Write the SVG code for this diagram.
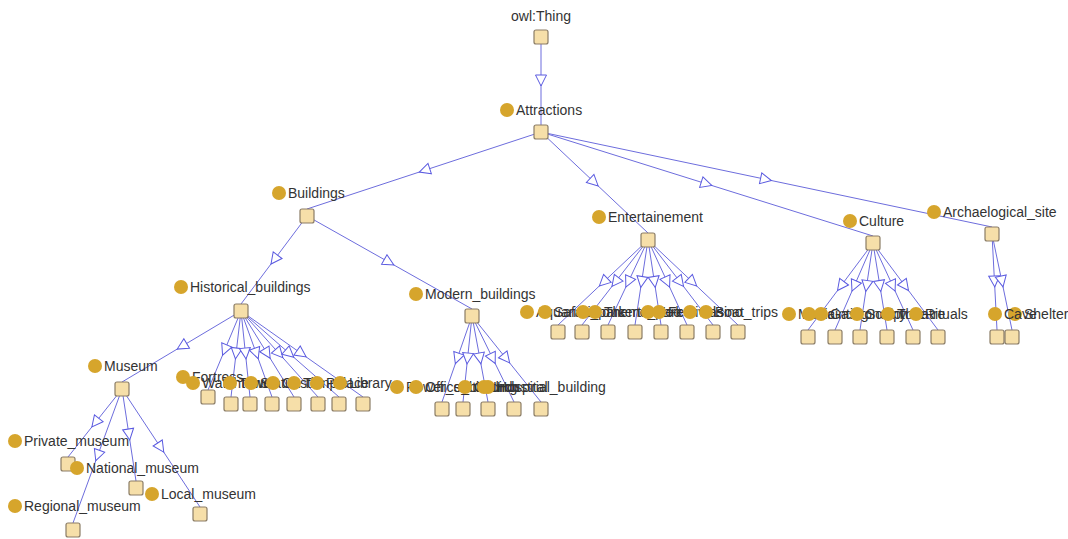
<svg xmlns="http://www.w3.org/2000/svg" width="1068" height="539" viewBox="0 0 1068 539">
<style>
.e{fill:none;stroke:#6d6ddd;stroke-width:1;marker-mid:url(#tri)}
.b{fill:#f6dfa9;stroke:#8b7d66;stroke-width:1.2}
.c{fill:#d6a52c}
.t{font-family:"Liberation Sans",Arial,sans-serif;font-size:14px;fill:#333}
</style>
<defs>
<marker id="tri" markerUnits="userSpaceOnUse" viewBox="-1 -1 14 14" markerWidth="14" markerHeight="14" refX="6" refY="6" orient="auto">
<path d="M0,0.5 L11,6 L0,11.5 Z" fill="#fff" stroke="#5a5ae0" stroke-width="1"/>
</marker>
</defs>
<rect width="1068" height="539" fill="#fff"/>
<g id="connectors">
<path class="e" d="M541,37 L541,81 L541,125"/>
<path class="e" d="M541,132 L424,170.5 L307,209"/>
<path class="e" d="M541,132 L594.5,182.5 L648,233"/>
<path class="e" d="M541,132 L707,184 L873,236"/>
<path class="e" d="M541,132 L766.5,179.5 L992,227"/>
<path class="e" d="M307,216 L274,260 L241,304"/>
<path class="e" d="M307,216 L389.5,262.5 L472,309"/>
<path class="e" d="M241,311 L181.5,346.5 L122,382"/>
<path class="e" d="M241,311 L224.5,350.5 L208,390"/>
<path class="e" d="M241,311 L236,354 L231,397"/>
<path class="e" d="M241,311 L245.5,354 L250,397"/>
<path class="e" d="M241,311 L256.5,354 L272,397"/>
<path class="e" d="M241,311 L267.5,354 L294,397"/>
<path class="e" d="M241,311 L279.5,354 L318,397"/>
<path class="e" d="M241,311 L290,354 L339,397"/>
<path class="e" d="M241,311 L302,354 L363,397"/>
<path class="e" d="M122,389 L95,423 L68,457"/>
<path class="e" d="M122,389 L129,435 L136,481"/>
<path class="e" d="M122,389 L161,448 L200,507"/>
<path class="e" d="M122,389 L97.5,456 L73,523"/>
<path class="e" d="M472,316 L457,359 L442,402"/>
<path class="e" d="M472,316 L467.5,359 L463,402"/>
<path class="e" d="M472,316 L480,359 L488,402"/>
<path class="e" d="M472,316 L493,359 L514,402"/>
<path class="e" d="M472,316 L506.5,359 L541,402"/>
<path class="e" d="M648,240 L603,282.5 L558,325"/>
<path class="e" d="M648,240 L615,282.5 L582,325"/>
<path class="e" d="M648,240 L628,282.5 L608,325"/>
<path class="e" d="M648,240 L641.5,282.5 L635,325"/>
<path class="e" d="M648,240 L654.5,282.5 L661,325"/>
<path class="e" d="M648,240 L667.5,282.5 L687,325"/>
<path class="e" d="M648,240 L680.5,282.5 L713,325"/>
<path class="e" d="M648,240 L693,282.5 L738,325"/>
<path class="e" d="M873,243 L840.5,286.5 L808,330"/>
<path class="e" d="M873,243 L854,286.5 L835,330"/>
<path class="e" d="M873,243 L866.5,286.5 L860,330"/>
<path class="e" d="M873,243 L880,286.5 L887,330"/>
<path class="e" d="M873,243 L893,286.5 L913,330"/>
<path class="e" d="M873,243 L905.5,286.5 L938,330"/>
<path class="e" d="M992,234 L994.5,282 L997,330"/>
<path class="e" d="M992,234 L1002,282 L1012,330"/>
</g>
<g id="n-thing"><text class="t" x="541" y="21" text-anchor="middle">owl:Thing</text><rect class="b" x="534" y="30" width="14" height="14" rx="2"/></g>
<g id="n-attractions"><circle class="c" cx="507" cy="110" r="7"/><text class="t" x="516" y="115">Attractions</text><rect class="b" x="534" y="125" width="14" height="14" rx="2"/></g>
<g id="n-buildings"><circle class="c" cx="279" cy="193" r="7"/><text class="t" x="288" y="198">Buildings</text><rect class="b" x="300" y="209" width="14" height="14" rx="2"/></g>
<g id="n-entertainement"><circle class="c" cx="599" cy="217" r="7"/><text class="t" x="608" y="222">Entertainement</text><rect class="b" x="641" y="233" width="14" height="14" rx="2"/></g>
<g id="n-culture"><circle class="c" cx="850" cy="221" r="7"/><text class="t" x="859" y="226">Culture</text><rect class="b" x="866" y="236" width="14" height="14" rx="2"/></g>
<g id="n-archaeological"><circle class="c" cx="934" cy="212" r="7"/><text class="t" x="943" y="217">Archaelogical_site</text><rect class="b" x="985" y="227" width="14" height="14" rx="2"/></g>
<g id="n-historical"><circle class="c" cx="181" cy="287" r="7"/><text class="t" x="190" y="292">Historical_buildings</text><rect class="b" x="234" y="304" width="14" height="14" rx="2"/></g>
<g id="n-modern"><circle class="c" cx="416" cy="294" r="7"/><text class="t" x="425" y="299">Modern_buildings</text><rect class="b" x="465" y="309" width="14" height="14" rx="2"/></g>
<g id="n-museum"><circle class="c" cx="95" cy="366" r="7"/><text class="t" x="104" y="371">Museum</text><rect class="b" x="115" y="382" width="14" height="14" rx="2"/></g>
<g id="n-private"><circle class="c" cx="15" cy="441" r="7"/><text class="t" x="24" y="446">Private_museum</text><rect class="b" x="61" y="457" width="14" height="14" rx="2"/></g>
<g id="n-national"><circle class="c" cx="77" cy="468" r="7"/><text class="t" x="86" y="473">National_museum</text><rect class="b" x="129" y="481" width="14" height="14" rx="2"/></g>
<g id="n-local"><circle class="c" cx="152" cy="494" r="7"/><text class="t" x="161" y="499">Local_museum</text><rect class="b" x="193" y="507" width="14" height="14" rx="2"/></g>
<g id="n-regional"><circle class="c" cx="15" cy="506" r="7"/><text class="t" x="24" y="511">Regional_museum</text><rect class="b" x="66" y="523" width="14" height="14" rx="2"/></g>
<g id="n-fortress"><circle class="c" cx="183" cy="377" r="7"/><text class="t" x="192" y="382">Fortress</text><rect class="b" x="201" y="390" width="14" height="14" rx="2"/></g>
<g id="n-watchtower"><circle class="c" cx="193" cy="383" r="7"/><text class="t" x="202" y="388">Watchtower</text><rect class="b" x="224" y="397" width="14" height="14" rx="2"/></g>
<g id="n-tower"><circle class="c" cx="230" cy="383" r="7"/><text class="t" x="239" y="388">Tower</text><rect class="b" x="243" y="397" width="14" height="14" rx="2"/></g>
<g id="n-statue"><circle class="c" cx="251" cy="383" r="7"/><text class="t" x="260" y="388">Statue</text><rect class="b" x="265" y="397" width="14" height="14" rx="2"/></g>
<g id="n-castle"><circle class="c" cx="273" cy="383" r="7"/><text class="t" x="282" y="388">Castle</text><rect class="b" x="287" y="397" width="14" height="14" rx="2"/></g>
<g id="n-temple"><circle class="c" cx="294" cy="383" r="7"/><text class="t" x="303" y="388">Temple</text><rect class="b" x="311" y="397" width="14" height="14" rx="2"/></g>
<g id="n-palace"><circle class="c" cx="317" cy="383" r="7"/><text class="t" x="326" y="388">Palace</text><rect class="b" x="332" y="397" width="14" height="14" rx="2"/></g>
<g id="n-library"><circle class="c" cx="340" cy="383" r="7"/><text class="t" x="349" y="388">Library</text><rect class="b" x="356" y="397" width="14" height="14" rx="2"/></g>
<g id="n-power"><circle class="c" cx="397" cy="387" r="7"/><text class="t" x="406" y="392">Power_station</text><rect class="b" x="435" y="402" width="14" height="14" rx="2"/></g>
<g id="n-office"><circle class="c" cx="416" cy="387" r="7"/><text class="t" x="425" y="392">Office_building</text><rect class="b" x="456" y="402" width="14" height="14" rx="2"/></g>
<g id="n-church"><circle class="c" cx="465" cy="387" r="7"/><text class="t" x="474" y="392">Church</text><rect class="b" x="481" y="402" width="14" height="14" rx="2"/></g>
<g id="n-hospital"><circle class="c" cx="488" cy="387" r="7"/><text class="t" x="497" y="392">Hospital</text><rect class="b" x="507" y="402" width="14" height="14" rx="2"/></g>
<g id="n-industrial"><circle class="c" cx="484" cy="387" r="7"/><text class="t" x="493" y="392">Industrial_building</text><rect class="b" x="534" y="402" width="14" height="14" rx="2"/></g>
<g id="n-aquarium"><circle class="c" cx="527" cy="312" r="7"/><text class="t" x="536" y="317">Aquarium</text><rect class="b" x="551" y="325" width="14" height="14" rx="2"/></g>
<g id="n-safari"><circle class="c" cx="545" cy="312" r="7"/><text class="t" x="554" y="317">Safari_park</text><rect class="b" x="575" y="325" width="14" height="14" rx="2"/></g>
<g id="n-concert"><circle class="c" cx="583" cy="312" r="7"/><text class="t" x="592" y="317">Concert</text><rect class="b" x="601" y="325" width="14" height="14" rx="2"/></g>
<g id="n-themepark"><circle class="c" cx="595" cy="312" r="7"/><text class="t" x="604" y="317">Theme_park</text><rect class="b" x="628" y="325" width="14" height="14" rx="2"/></g>
<g id="n-zoo"><circle class="c" cx="648" cy="312" r="7"/><text class="t" x="657" y="317">Zoo</text><rect class="b" x="654" y="325" width="14" height="14" rx="2"/></g>
<g id="n-festivals"><circle class="c" cx="659" cy="312" r="7"/><text class="t" x="668" y="317">Festivals</text><rect class="b" x="680" y="325" width="14" height="14" rx="2"/></g>
<g id="n-casino"><circle class="c" cx="690" cy="312" r="7"/><text class="t" x="699" y="317">Casino</text><rect class="b" x="706" y="325" width="14" height="14" rx="2"/></g>
<g id="n-boattrips"><circle class="c" cx="706" cy="312" r="7"/><text class="t" x="715" y="317">Boat_trips</text><rect class="b" x="731" y="325" width="14" height="14" rx="2"/></g>
<g id="n-music"><circle class="c" cx="789" cy="314" r="7"/><text class="t" x="798" y="319">Music</text><rect class="b" x="801" y="330" width="14" height="14" rx="2"/></g>
<g id="n-painting"><circle class="c" cx="809" cy="314" r="7"/><text class="t" x="818" y="319">Painting</text><rect class="b" x="828" y="330" width="14" height="14" rx="2"/></g>
<g id="n-gastronomy"><circle class="c" cx="821" cy="314" r="7"/><text class="t" x="830" y="319">Gastronomy</text><rect class="b" x="853" y="330" width="14" height="14" rx="2"/></g>
<g id="n-sculpture"><circle class="c" cx="857" cy="314" r="7"/><text class="t" x="866" y="319">Sculpture</text><rect class="b" x="880" y="330" width="14" height="14" rx="2"/></g>
<g id="n-theatre"><circle class="c" cx="888" cy="314" r="7"/><text class="t" x="897" y="319">Theatre</text><rect class="b" x="906" y="330" width="14" height="14" rx="2"/></g>
<g id="n-rituals"><circle class="c" cx="916" cy="314" r="7"/><text class="t" x="925" y="319">Rituals</text><rect class="b" x="931" y="330" width="14" height="14" rx="2"/></g>
<g id="n-shelter"><circle class="c" cx="1015" cy="314" r="7"/><text class="t" x="1024" y="319">Shelter</text><rect class="b" x="990" y="330" width="14" height="14" rx="2"/></g>
<g id="n-cave"><circle class="c" cx="995" cy="314" r="7"/><text class="t" x="1004" y="319">Cave</text><rect class="b" x="1005" y="330" width="14" height="14" rx="2"/></g>
</svg>
